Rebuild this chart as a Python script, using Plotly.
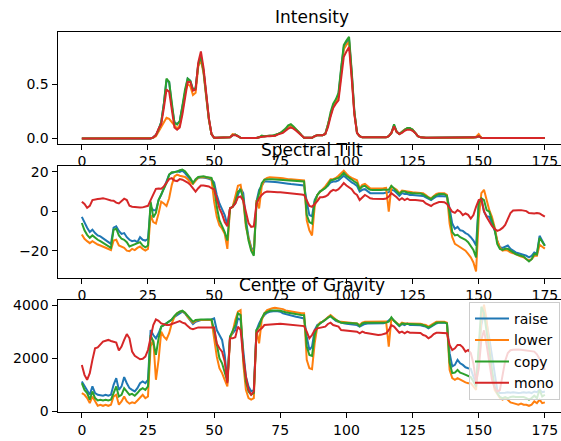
import plotly.graph_objects as go
from plotly.subplots import make_subplots

frames = list(range(176))
series_names = ["raise", "lower", "copy", "mono"]
colors = ["#1f77b4", "#ff7f0e", "#2ca02c", "#d62728"]
panel_titles = ["Intensity", "Spectral Tilt", "Centre of Gravity"]
x_ticks = [0, 25, 50, 75, 100, 125, 150, 175]

# ---------------- Intensity ----------------
int_raise = [0]*27 + [
    0.01, 0.03, 0.08,
    0.15, 0.32, 0.53, 0.52, 0.30, 0.15, 0.13, 0.16, 0.30, 0.45,
    0.55, 0.53, 0.45, 0.46, 0.68, 0.75, 0.62, 0.40, 0.18, 0.04,
    0.005, 0.005, 0.005, 0.005, 0.005, 0.005, 0.01, 0.03, 0.035, 0.02,
    0.005, 0.003, 0.003, 0.003, 0.003, 0.003, 0.003, 0.01, 0.02, 0.02,
    0.025, 0.025, 0.025, 0.025, 0.04, 0.05, 0.06, 0.08, 0.11, 0.12,
    0.10, 0.08, 0.06, 0.03, 0.005, 0.005, 0.005, 0.005, 0.02, 0.03,
    0.03, 0.03, 0.04, 0.12, 0.22, 0.30, 0.35, 0.40, 0.63, 0.84,
    0.88, 0.91, 0.60, 0.24, 0.05, 0.02, 0.01, 0.01, 0.01, 0.01,
    0.01, 0.01, 0.01, 0.01, 0.01, 0.01, 0.02, 0.05, 0.12, 0.06,
    0.04, 0.06, 0.08, 0.09, 0.09, 0.08, 0.05, 0.02, 0.01, 0.005,
    0.005, 0.005, 0.005, 0.005, 0.005, 0.005, 0.005, 0.005, 0.005, 0.005,
    0.005, 0.005, 0.005, 0.005, 0.005, 0.005, 0.005, 0.005, 0.005, 0.01,
    0.02, 0.005, 0.003, 0.003, 0.003, 0.003, 0.003, 0.003, 0.003, 0.003,
    0.003, 0.003, 0.003, 0.003, 0.003, 0.003, 0.003, 0.003, 0.003, 0.003,
    0.003, 0.003, 0.003, 0.003, 0.003, 0.003]
int_lower = [0]*27 + [
    0.005, 0.02, 0.06,
    0.10, 0.15, 0.19, 0.18, 0.15, 0.12, 0.09, 0.12, 0.25, 0.42,
    0.50, 0.48, 0.40, 0.42, 0.66, 0.72, 0.60, 0.38, 0.17, 0.04,
    0.005, 0.005, 0.005, 0.005, 0.005, 0.005, 0.01, 0.04, 0.035, 0.02,
    0.005, 0.003, 0.003, 0.003, 0.003, 0.003, 0.003, 0.01, 0.02, 0.02,
    0.025, 0.025, 0.025, 0.025, 0.04, 0.05, 0.06, 0.08, 0.11, 0.12,
    0.10, 0.08, 0.06, 0.03, 0.005, 0.005, 0.005, 0.005, 0.02, 0.03,
    0.03, 0.03, 0.04, 0.12, 0.22, 0.30, 0.34, 0.38, 0.60, 0.82,
    0.86, 0.89, 0.58, 0.23, 0.05, 0.02, 0.01, 0.01, 0.01, 0.01,
    0.01, 0.01, 0.01, 0.01, 0.01, 0.01, 0.02, 0.05, 0.11, 0.06,
    0.04, 0.06, 0.08, 0.09, 0.09, 0.08, 0.05, 0.02, 0.01, 0.005,
    0.005, 0.005, 0.005, 0.005, 0.005, 0.005, 0.005, 0.005, 0.005, 0.005,
    0.005, 0.005, 0.005, 0.005, 0.005, 0.005, 0.005, 0.005, 0.005, 0.015,
    0.04, 0.005, 0.003, 0.003, 0.003, 0.003, 0.003, 0.003, 0.003, 0.003,
    0.003, 0.003, 0.003, 0.003, 0.003, 0.003, 0.003, 0.003, 0.003, 0.003,
    0.003, 0.003, 0.003, 0.003, 0.003, 0.003]
int_copy = [0]*27 + [
    0.01, 0.03, 0.08,
    0.15, 0.32, 0.55, 0.52, 0.30, 0.14, 0.13, 0.16, 0.30, 0.45,
    0.55, 0.53, 0.45, 0.46, 0.68, 0.75, 0.62, 0.40, 0.18, 0.04,
    0.005, 0.005, 0.005, 0.005, 0.005, 0.005, 0.01, 0.03, 0.035, 0.02,
    0.005, 0.003, 0.003, 0.003, 0.003, 0.003, 0.003, 0.01, 0.025, 0.02,
    0.025, 0.025, 0.025, 0.03, 0.04, 0.05, 0.07, 0.09, 0.12, 0.13,
    0.11, 0.08, 0.06, 0.03, 0.005, 0.005, 0.005, 0.005, 0.02, 0.03,
    0.03, 0.03, 0.04, 0.12, 0.24, 0.32, 0.36, 0.42, 0.65, 0.86,
    0.90, 0.935, 0.62, 0.25, 0.05, 0.02, 0.01, 0.01, 0.01, 0.01,
    0.01, 0.01, 0.01, 0.01, 0.01, 0.01, 0.02, 0.05, 0.13, 0.06,
    0.04, 0.06, 0.08, 0.095, 0.095, 0.08, 0.05, 0.02, 0.01, 0.005,
    0.005, 0.005, 0.005, 0.005, 0.005, 0.005, 0.005, 0.005, 0.005, 0.005,
    0.005, 0.005, 0.005, 0.005, 0.005, 0.005, 0.005, 0.005, 0.005, 0.01,
    0.02, 0.005, 0.003, 0.003, 0.003, 0.003, 0.003, 0.003, 0.003, 0.003,
    0.003, 0.003, 0.003, 0.003, 0.003, 0.003, 0.003, 0.003, 0.003, 0.003,
    0.003, 0.003, 0.003, 0.003, 0.003, 0.003]
int_mono = [0]*27 + [
    0.01, 0.03, 0.09,
    0.13, 0.28, 0.45, 0.43, 0.25, 0.10, 0.08, 0.10, 0.22, 0.38,
    0.52, 0.52, 0.44, 0.45, 0.70, 0.80, 0.65, 0.42, 0.19, 0.04,
    0.005, 0.005, 0.005, 0.005, 0.005, 0.005, 0.01, 0.03, 0.03, 0.02,
    0.005, 0.003, 0.003, 0.003, 0.003, 0.003, 0.003, 0.01, 0.015, 0.02,
    0.02, 0.02, 0.02, 0.025, 0.035, 0.04, 0.05, 0.07, 0.09, 0.10,
    0.09, 0.07, 0.05, 0.03, 0.005, 0.005, 0.005, 0.005, 0.02, 0.03,
    0.03, 0.03, 0.04, 0.10, 0.20, 0.28, 0.32, 0.35, 0.55, 0.75,
    0.80, 0.84, 0.55, 0.22, 0.05, 0.02, 0.01, 0.01, 0.01, 0.01,
    0.01, 0.01, 0.01, 0.01, 0.01, 0.01, 0.02, 0.05, 0.11, 0.06,
    0.04, 0.05, 0.07, 0.08, 0.08, 0.07, 0.05, 0.02, 0.01, 0.005,
    0.005, 0.005, 0.005, 0.005, 0.005, 0.005, 0.005, 0.005, 0.005, 0.005,
    0.005, 0.005, 0.005, 0.005, 0.005, 0.005, 0.005, 0.005, 0.005, 0.01,
    0.02, 0.005, 0.003, 0.003, 0.003, 0.003, 0.003, 0.003, 0.003, 0.003,
    0.003, 0.003, 0.003, 0.003, 0.003, 0.003, 0.003, 0.003, 0.003, 0.003,
    0.003, 0.003, 0.003, 0.003, 0.003, 0.003]

# ---------------- Spectral Tilt ----------------
tilt_raise = [
    -2.9, -6.0, -8.4, -10.6, -9.4, -11.1, -12.3, -12.8, -13.7, -14.9,
    -15.7, -16.6, -8.4, -7.7, -10.0, -11.5, -11.1, -13.2, -14.5, -15.2,
    -14.9, -15.7, -13.2, -14.5, -14.9, -14.0, 2.2, 0.5, 0.5, 5.6,
    8.2, 11.6, 15.0, 18.5, 19.3, 19.7, 20.2, 19.8, 20.5, 19.3,
    17.6, 15.9, 14.2, 15.6, 16.8, 17.1, 17.1, 16.8, 16.4, 15.9,
    14.5, 8.2, 3.9, 0.5, -2.0, -7.2, 1.4, 2.2, 3.9, 8.2,
    11.6, 9.1, -4.6, -13.2, -18.3, -20.9, 4.8, 10.8, 13.3, 15.0,
    15.0, 15.0, 14.9, 14.8, 14.6, 14.5, 14.3, 14.1, 13.9, 13.7,
    13.5, 13.3, 13.2, 13.1, 13.0, 4.8, -2.0, -2.6, 5.6, 8.2,
    9.9, 10.8, 11.6, 12.8, 14.5, 15.0, 15.0, 15.6, 16.8, 17.9,
    16.8, 15.6, 14.5, 13.8, 12.8, 9.9, 10.8, 11.1, 9.9, 9.1,
    9.0, 8.9, 8.9, 9.0, 9.1, 9.3, 9.6, 10.8, 10.4, 9.1,
    7.7, 9.1, 8.7, 8.7, 8.2, 8.2, 8.1, 8.0, 8.0, 7.7,
    7.0, 6.2, 5.6, 6.5, 7.4, 7.7, 7.7, 7.6, 7.4, 1.4,
    -6.3, -8.9, -8.0, -9.7, -10.0, -11.1, -11.8, -13.2, -14.9, -17.4,
    3.9, 6.0, -0.3, -2.6, -2.9, -6.3, -9.7, -14.9, -18.3, -18.6,
    -17.9, -17.4, -19.1, -20.0, -20.9, -21.3, -21.7, -22.0, -22.6, -23.4,
    -22.6, -20.9, -21.5, -12.5, -15.0, -17.5]
tilt_lower = [
    -11.8, -14.0, -15.2, -16.2, -15.2, -16.2, -16.9, -17.4, -17.9, -18.6,
    -19.1, -19.7, -14.9, -14.5, -17.4, -17.9, -18.6, -20.0, -20.3, -19.1,
    -19.7, -18.6, -17.9, -19.1, -20.0, -19.1, -2.0, -5.5, -6.3, -1.2,
    4.8, 3.9, 2.6, 6.5, 13.3, 17.6, 18.5, 17.9, 17.6, 17.3,
    16.2, 14.5, 13.8, 15.6, 17.1, 17.3, 17.3, 17.1, 16.8, 16.2,
    4.8, -2.9, -7.2, -8.9, -11.5, -19.1, 1.4, 2.2, 7.4, 12.8,
    13.3, 5.6, -8.0, -14.0, -19.1, -21.7, 5.6, 1.4, 12.5, 15.9,
    16.8, 17.1, 17.1, 17.0, 16.9, 16.8, 16.6, 16.3, 16.2, 16.1,
    16.0, 15.9, 15.8, 15.7, 15.6, -4.6, -9.7, -12.3, 2.2, 8.2,
    9.9, 11.1, 12.5, 14.2, 16.2, 16.2, 16.8, 17.9, 19.3, 20.5,
    19.0, 17.6, 16.8, 16.2, 15.6, 11.6, 13.3, 13.8, 12.5, 11.6,
    11.5, 11.4, 11.4, 11.5, 11.6, 11.8, -0.3, 12.5, 11.6, 10.8,
    9.1, 10.4, 10.2, 9.9, 9.6, 9.5, 9.4, 9.4, 9.3, 9.1,
    8.2, 7.0, 6.5, 7.7, 8.7, 9.1, 9.1, 9.0, 8.2, -6.3,
    -13.2, -16.6, -17.4, -18.3, -19.1, -20.0, -21.7, -23.4, -26.0, -30.6,
    -3.8, 9.1, 10.8, 5.6, 0.5, -2.9, -8.0, -14.9, -18.3, -20.0,
    -19.7, -20.0, -20.9, -21.3, -22.0, -22.6, -23.0, -23.4, -24.3, -25.1,
    -24.3, -22.6, -22.6, -17.0, -18.0, -19.0]
tilt_copy = [
    -6.0, -9.7, -12.0, -13.5, -12.3, -13.5, -14.5, -15.2, -16.1, -16.9,
    -17.9, -18.6, -9.4, -8.9, -12.3, -14.0, -14.5, -15.7, -17.9, -17.4,
    -16.9, -16.6, -15.7, -17.4, -18.3, -17.4, 4.8, -3.2, -0.9, 5.6,
    8.2, 10.8, 14.2, 18.5, 19.7, 19.8, 20.0, 20.7, 21.0, 20.2,
    18.5, 16.8, 14.2, 16.2, 17.3, 17.6, 17.6, 17.3, 17.1, 16.8,
    12.5, 2.2, -4.6, -7.2, -10.6, -14.9, 1.4, 2.2, 4.8, 9.9,
    10.8, 6.5, -6.3, -14.9, -20.0, -22.6, 3.9, 9.1, 14.2, 15.9,
    16.2, 16.2, 16.1, 16.0, 15.9, 15.8, 15.7, 15.6, 15.5, 15.4,
    15.3, 15.2, 15.1, 15.0, 15.0, -2.0, -5.5, -6.3, 4.8, 8.2,
    9.9, 10.8, 11.6, 13.3, 15.6, 15.9, 16.2, 16.8, 17.9, 19.3,
    17.9, 16.8, 15.9, 15.0, 14.2, 11.1, 12.5, 12.8, 11.6, 10.8,
    10.7, 10.6, 10.6, 10.7, 10.8, 10.9, 10.8, 12.8, 11.6, 10.4,
    8.7, 9.9, 9.9, 9.4, 9.1, 9.1, 9.0, 9.0, 8.9, 8.5,
    7.7, 6.5, 6.0, 7.4, 8.2, 8.7, 8.7, 8.6, 7.7, -2.9,
    -10.6, -12.3, -12.0, -13.2, -13.7, -14.5, -15.7, -17.4, -19.7, -23.4,
    3.9, 6.5, 5.6, 0.5, -0.3, -4.6, -8.9, -16.6, -19.1, -19.6,
    -19.1, -19.1, -20.0, -20.9, -21.7, -22.2, -22.6, -23.0, -24.3, -25.5,
    -24.3, -21.7, -22.0, -13.5, -15.5, -17.5]
tilt_mono = [
    4.8, 3.6, 1.7, 2.7, 5.6, 6.0, 6.1, 6.3, 6.5, 6.2,
    5.6, 5.4, 5.3, 4.3, 3.9, 5.1, 6.3, 5.6, 2.7, 2.2,
    2.0, 1.9, 1.8, 1.9, 2.2, 2.7, 5.6, 8.5, 11.3, 11.5,
    11.3, 12.5, 14.5, 16.2, 16.7, 15.5, 15.2, 16.2, 15.9, 15.4,
    14.5, 13.3, 11.3, 9.9, 11.6, 13.0, 13.0, 12.8, 12.5, 11.6,
    11.1, 6.5, 1.4, -1.5, -5.5, -7.7, 1.4, 2.2, 3.9, 7.0,
    7.4, 5.3, -0.3, -6.0, -8.0, -7.7, 3.6, 6.5, 8.2, 9.4,
    9.9, 9.9, 9.8, 9.7, 9.6, 9.5, 9.4, 9.3, 9.2, 9.0,
    8.9, 8.8, 8.6, 8.4, 8.2, 5.6, 2.6, 2.2, 3.6, 5.1,
    7.0, 7.0, 7.4, 8.2, 9.9, 10.8, 10.4, 11.1, 12.5, 14.2,
    13.0, 12.0, 11.1, 9.1, 8.2, 5.6, 7.0, 8.2, 7.4, 6.5,
    6.3, 6.2, 6.0, 6.0, 6.1, 6.4, 7.4, 9.1, 8.2, 7.0,
    5.6, 6.5, 5.6, 6.3, 5.6, 5.7, 5.6, 5.5, 5.4, 5.1,
    3.9, 3.1, 2.6, 3.6, 4.3, 4.6, 4.6, 4.5, 3.6, 1.4,
    -0.3, -0.9, 0.5, -0.3, -2.0, -1.2, -1.9, -3.8, -2.0, 2.2,
    5.6, 6.0, 0.0, -3.0, -5.5, -7.5, -9.0, -10.0, -9.5, -8.5,
    -7.0, -4.0, -1.0, 0.3, 0.5, 0.5, 0.5, 0.3, 0.0, -1.0,
    -1.2, -1.2, -0.9, -1.2, -2.0, -2.8]

# ---------------- Centre of Gravity ----------------
cog_raise = [
    1125, 940, 810, 625, 940, 690, 625, 600, 590, 625,
    590, 625, 1000, 1250, 810, 940, 1290, 1060, 875, 810,
    750, 875, 1060, 1125, 1060, 1190, 3060, 2875, 2750, 2940,
    3190, 3250, 3310, 3375, 3460, 3560, 3625, 3690, 3750, 3690,
    3560, 3440, 3290, 3375, 3410, 3440, 3440, 3440, 3440, 3460,
    3500, 3060, 2875, 2690, 2125, 1125, 2810, 2940, 3060, 3500,
    3440, 2310, 1310, 940, 750, 810, 3060, 3310, 3500, 3625,
    3710, 3750, 3770, 3780, 3770, 3750, 3690, 3660, 3630, 3600,
    3580, 3560, 3540, 3520, 3500, 2810, 2310, 2440, 3060, 3250,
    3310, 3375, 3440, 3540, 3590, 3500, 3410, 3375, 3340, 3320,
    3300, 3290, 3280, 3270, 3250, 3190, 3250, 3290, 3310, 3310,
    3310, 3300, 3300, 3310, 3320, 3340, 3410, 3500, 3410, 3310,
    3210, 3290, 3250, 3310, 3250, 3250, 3250, 3240, 3240, 3210,
    3190, 3125, 3190, 3250, 3310, 3340, 3340, 3340, 3310, 2190,
    1690, 1750, 1940, 1810, 1750, 1660, 1625, 1600, 1310, 1060,
    2190, 3250, 3690, 3310, 2750, 2060, 1310, 810, 690, 690,
    700, 720, 700, 720, 700, 690, 700, 720, 700, 720,
    690, 750, 720, 810, 720, 750]
cog_lower = [
    690, 625, 500, 310, 560, 375, 210, 250, 210, 250,
    210, 250, 560, 625, 250, 375, 560, 375, 290, 340,
    310, 410, 540, 625, 500, 560, 2440, 2690, 1190, 1940,
    3000, 2810, 2710, 2940, 3310, 3560, 3690, 3750, 3775, 3710,
    3560, 3460, 3340, 3410, 3440, 3440, 3440, 3440, 3440, 3440,
    2750, 2060, 1625, 1440, 1190, 940, 2750, 3000, 3440, 3750,
    3810, 1810, 810, 500, 440, 500, 3060, 2560, 3440, 3690,
    3810, 3860, 3880, 3900, 3890, 3870, 3850, 3800, 3780, 3760,
    3740, 3720, 3700, 3690, 3690, 1940, 1625, 1590, 2560, 3190,
    3340, 3375, 3460, 3560, 3625, 3540, 3440, 3375, 3375, 3360,
    3350, 3340, 3330, 3320, 3310, 3250, 3340, 3375, 3375, 3375,
    3375, 3370, 3370, 3375, 3380, 3380, 2440, 3500, 3410, 3340,
    3250, 3340, 3310, 3310, 3310, 3310, 3310, 3300, 3300, 3270,
    3250, 3190, 3250, 3310, 3375, 3375, 3375, 3375, 3340, 1560,
    1250, 1190, 1250, 1190, 1125, 1090, 1060, 1060, 940, 810,
    2060, 3440, 4020, 3440, 2440, 1440, 810, 625, 500, 440,
    500, 440, 340, 310, 290, 250, 290, 250, 250, 210,
    250, 375, 310, 440, 310, 340]
cog_copy = [
    1060, 810, 690, 440, 750, 500, 410, 440, 410, 440,
    410, 440, 690, 940, 560, 625, 875, 750, 625, 660,
    590, 690, 810, 875, 810, 940, 2875, 2625, 2125, 2750,
    3190, 3250, 3310, 3375, 3460, 3590, 3690, 3750, 3790, 3710,
    3590, 3500, 3375, 3440, 3460, 3460, 3460, 3460, 3460, 3460,
    3060, 2440, 2000, 1810, 1440, 1125, 2810, 3000, 3250, 3690,
    3625, 2060, 1125, 750, 625, 690, 3060, 3190, 3500, 3690,
    3750, 3790, 3800, 3810, 3800, 3790, 3750, 3730, 3710, 3690,
    3670, 3660, 3650, 3630, 3625, 2440, 2125, 2090, 2875, 3210,
    3310, 3375, 3440, 3525, 3590, 3500, 3440, 3375, 3340, 3340,
    3330, 3330, 3320, 3320, 3310, 3210, 3310, 3340, 3340, 3340,
    3340, 3330, 3330, 3340, 3340, 3350, 3375, 3540, 3410, 3310,
    3225, 3310, 3290, 3290, 3290, 3290, 3280, 3280, 3270, 3250,
    3210, 3160, 3210, 3290, 3340, 3350, 3350, 3350, 3310, 1840,
    1440, 1460, 1560, 1460, 1420, 1375, 1310, 1290, 1125, 940,
    2440, 3940, 3700, 2940, 2310, 1560, 940, 690, 540, 500,
    540, 500, 540, 560, 540, 540, 540, 540, 500, 440,
    500, 590, 500, 810, 560, 625]
cog_mono = [
    1750, 1375, 1190, 1440, 1940, 2375, 2410, 2500, 2625, 2660,
    2690, 2650, 2625, 2590, 2290, 2440, 2690, 2910, 2750, 2250,
    2090, 2040, 1960, 1980, 2060, 2310, 2810, 3250, 3460, 3410,
    3310, 3275, 3250, 3250, 3290, 3340, 3375, 3400, 3340, 3310,
    3210, 3125, 3090, 3125, 3160, 3160, 3160, 3170, 3160, 3160,
    3160, 2560, 2375, 2250, 1875, 1060, 2750, 2750, 2790, 3190,
    3060, 2060, 1310, 810, 625, 750, 2940, 3060, 3125, 3250,
    3260, 3270, 3280, 3290, 3300, 3300, 3290, 3280, 3270, 3250,
    3240, 3230, 3220, 3210, 3210, 3000, 2750, 2875, 3060, 3125,
    3150, 3150, 3190, 3290, 3340, 3250, 3210, 3190, 3060, 3050,
    3040, 3030, 3020, 3010, 3000, 2940, 3000, 2960, 2940, 2930,
    2920, 2900, 2875, 2880, 2900, 2940, 3060, 3250, 3190, 3060,
    2960, 3000, 2940, 3000, 2960, 2960, 2960, 2960, 2950, 2875,
    2840, 2750, 2810, 2910, 2960, 2960, 2960, 2960, 2940, 2500,
    2310, 2375, 2500, 2500, 2410, 2250, 2310, 2200, 1800, 1100,
    1600, 2700, 3050, 2500, 1800, 1200, 900, 750, 800, 1300,
    1900, 2200, 2300, 2320, 2330, 2330, 2320, 2310, 2300, 2290,
    2280, 2250, 2150, 2000, 1800, 1560]

panels = [
    [int_raise, int_lower, int_copy, int_mono],
    [tilt_raise, tilt_lower, tilt_copy, tilt_mono],
    [cog_raise, cog_lower, cog_copy, cog_mono],
]
for p in panels:
    for s in p:
        assert len(s) == len(frames), len(s)

W, H = 561, 441
fig = make_subplots(rows=3, cols=1)

for r, panel in enumerate(panels, start=1):
    for name, col, vals in zip(series_names, colors, panel):
        fig.add_trace(go.Scatter(
            x=frames, y=vals, mode="lines", name=name, legendgroup=name,
            line=dict(color=col, width=2),
            showlegend=(r == 3), hoverinfo="skip"), row=r, col=1)

# pixel geometry of the three axes boxes (top, bottom)
boxes = [(31.7, 143.5), (165.5, 277.5), (299.8, 411.7)]
x_left_px = 57.5
y_ranges = [[-0.047, 0.982], [-33.6, 23.1], [-12, 4200]]
y_ticks = [[0.0, 0.5], [-20, 0, 20], [0, 2000, 4000]]
y_ticktext = [["0.0", "0.5"], ["\u221220", "0", "20"], ["0", "2000", "4000"]]

tickfont = dict(family="DejaVu Sans", size=14, color="black")
for i, (top, bot) in enumerate(boxes):
    n = "" if i == 0 else str(i + 1)
    fig.layout["xaxis" + n].update(
        domain=[x_left_px / W, 1], range=[-9.2, 181.1], automargin=False,
        tickvals=x_ticks, ticks="outside", ticklen=5, tickwidth=1,
        tickcolor="black", showline=True, linecolor="black", linewidth=1,
        mirror=True, showgrid=False, zeroline=False, tickfont=tickfont)
    fig.layout["yaxis" + n].update(
        domain=[1 - bot / H, 1 - top / H], range=y_ranges[i], automargin=False,
        tickvals=y_ticks[i], ticktext=y_ticktext[i], ticks="outside",
        ticklen=5, tickwidth=1, tickcolor="black", showline=True,
        linecolor="black", linewidth=1, mirror=False, showgrid=False,
        zeroline=False, tickfont=tickfont)
    fig.add_annotation(
        text=panel_titles[i], xref="paper", yref="paper",
        x=311.5 / W, y=1 - (top - 3) / H, xanchor="center", yanchor="bottom",
        showarrow=False, font=dict(family="DejaVu Sans", size=17, color="black"))

fig.update_layout(
    width=W, height=H,
    margin=dict(l=0, r=0, t=0, b=0, autoexpand=False),
    paper_bgcolor="white", plot_bgcolor="white",
    legend=dict(x=469 / W, y=1 - 302 / H, xanchor="left", yanchor="top",
                bgcolor="rgba(255,255,255,0.8)", bordercolor="#cccccc",
                borderwidth=1, font=dict(family="DejaVu Sans", size=14,
                                         color="black"),
                tracegroupgap=0.2, itemwidth=34),
)

fig.write_html("out.html")
